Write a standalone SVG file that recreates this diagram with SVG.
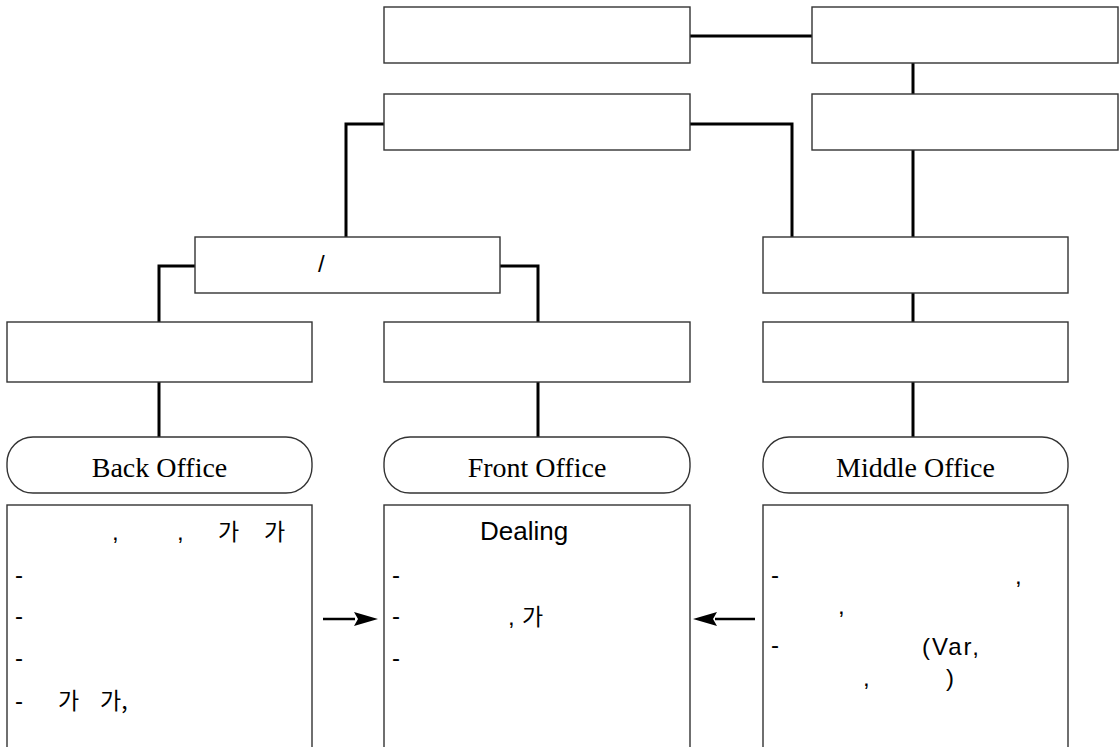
<svg xmlns="http://www.w3.org/2000/svg" width="1119" height="747" viewBox="0 0 1119 747">
<style>
.box{fill:#fff;stroke:#333;stroke-width:1.4}
.conn{fill:none;stroke:#000;stroke-width:3}
.arr{fill:none;stroke:#000;stroke-width:2.5}
.lbl{font-family:"Liberation Serif","Times New Roman",serif;font-size:28px;fill:#000;text-anchor:middle}
.t{font-family:"Liberation Sans",Arial,"Noto Sans CJK KR",sans-serif;font-size:24px;fill:#000}
.k{font-family:"Noto Sans CJK KR","Liberation Sans",sans-serif;font-size:23px;fill:#000}
</style>
<rect width="1119" height="747" fill="#fff"/>
<g id="connectors">
<line class="conn" x1="690" y1="36" x2="812" y2="36"/>
<line class="conn" x1="913" y1="63" x2="913" y2="94"/>
<polyline class="conn" points="384,124 346,124 346,237"/>
<polyline class="conn" points="690,124 792,124 792,237"/>
<line class="conn" x1="913" y1="150" x2="913" y2="237"/>
<polyline class="conn" points="195,266 159,266 159,322"/>
<polyline class="conn" points="500,266 538,266 538,322"/>
<line class="conn" x1="913" y1="293" x2="913" y2="322"/>
<line class="conn" x1="159" y1="382" x2="159" y2="437"/>
<line class="conn" x1="538" y1="382" x2="538" y2="437"/>
<line class="conn" x1="913" y1="382" x2="913" y2="437"/>
<line class="arr" x1="323" y1="619" x2="355" y2="619"/>
<path d="M378,619 L354,612 L358,619 L354,626 Z" fill="#000"/>
<line class="arr" x1="755" y1="619" x2="715" y2="619"/>
<path d="M693,619 L717,612 L713,619 L717,626 Z" fill="#000"/>
</g>
<g id="nodeA"><rect class="box" x="384" y="7" width="306" height="56"/></g>
<g id="nodeB"><rect class="box" x="812" y="7" width="306" height="56"/></g>
<g id="nodeC"><rect class="box" x="384" y="94" width="306" height="56"/></g>
<g id="nodeD"><rect class="box" x="812" y="94" width="306" height="56"/></g>
<g id="nodeE"><rect class="box" x="195" y="237" width="305" height="56"/><text class="t" x="318" y="272">/</text></g>
<g id="nodeF"><rect class="box" x="763" y="237" width="305" height="56"/></g>
<g id="nodeG"><rect class="box" x="7" y="322" width="305" height="60"/></g>
<g id="nodeH"><rect class="box" x="384" y="322" width="306" height="60"/></g>
<g id="nodeI"><rect class="box" x="763" y="322" width="305" height="60"/></g>
<g id="backOffice"><rect class="box" x="7" y="437" width="305" height="56" rx="26" ry="26"/><text class="lbl" x="159.5" y="477">Back Office</text></g>
<g id="frontOffice"><rect class="box" x="384" y="437" width="306" height="56" rx="26" ry="26"/><text class="lbl" x="537" y="477">Front Office</text></g>
<g id="middleOffice"><rect class="box" x="763" y="437" width="305" height="56" rx="26" ry="26"/><text class="lbl" x="915.5" y="477">Middle Office</text></g>
<g id="backDetail">
<rect class="box" x="7" y="505" width="305" height="260"/>
<text class="t" x="112" y="540">,</text>
<text class="t" x="177" y="540">,</text>
<text class="k" x="218" y="540">가</text>
<text class="k" x="264" y="540">가</text>
<text class="t" x="15" y="583">-</text>
<text class="t" x="15" y="624">-</text>
<text class="t" x="15" y="666">-</text>
<text class="t" x="15" y="709">-</text>
<text class="k" x="58" y="709">가</text>
<text class="k" x="100" y="709">가,</text>
</g>
<g id="frontDetail">
<rect class="box" x="384" y="505" width="306" height="260"/>
<text class="t" x="480" y="540" style="font-size:26px">Dealing</text>
<text class="t" x="392" y="583">-</text>
<text class="t" x="392" y="624">-</text>
<text class="t" x="392" y="666">-</text>
<text class="t" x="508" y="625">,</text>
<text class="k" x="522" y="625">가</text>
</g>
<g id="middleDetail">
<rect class="box" x="763" y="505" width="305" height="260"/>
<text class="t" x="771" y="583">-</text>
<text class="t" x="1015" y="584">,</text>
<text class="t" x="838" y="614">,</text>
<text class="t" x="771" y="653">-</text>
<text class="t" x="922" y="655" letter-spacing="2">(Var,</text>
<text class="t" x="863" y="686">,</text>
<text class="t" x="946" y="686">)</text>
</g>
</svg>
